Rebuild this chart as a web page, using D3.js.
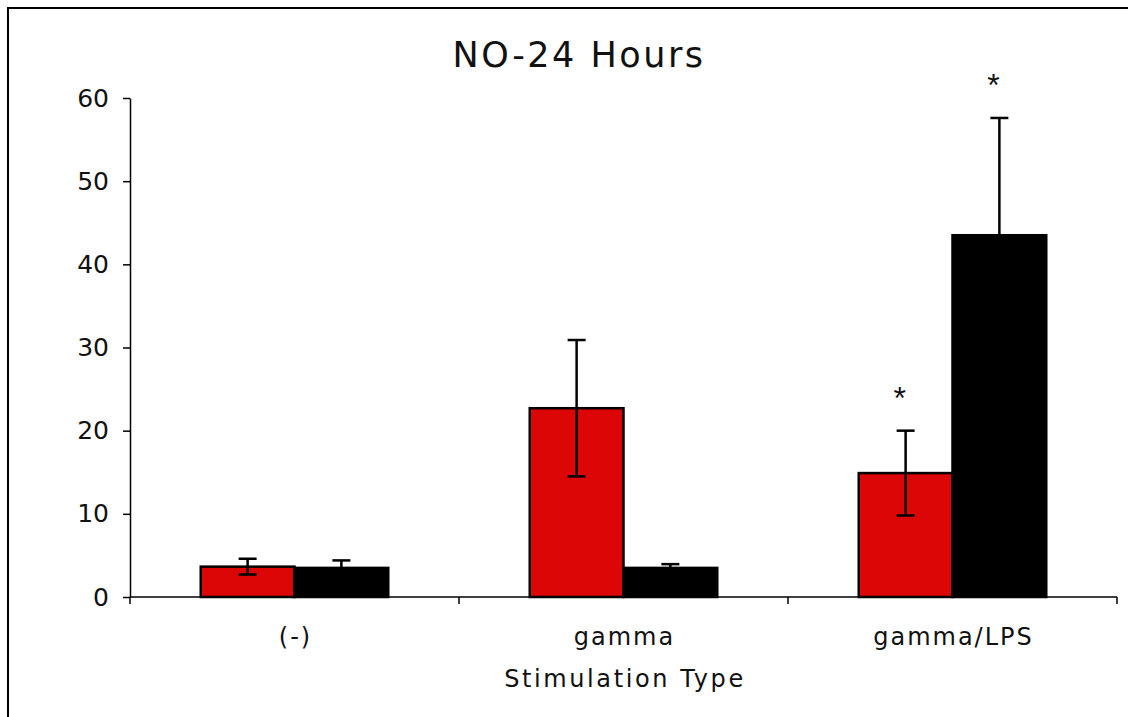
<!DOCTYPE html>
<html>
<head>
<meta charset="utf-8">
<script src="https://cdn.jsdelivr.net/npm/d3@7"></script>
<style>
  html, body { margin: 0; padding: 0; background: #fff; }
  svg { display: block; }
  text { font-family: "DejaVu Sans", Verdana, sans-serif; fill: #111; }
</style>
</head>
<body>
<svg id="chart" width="1128" height="717"></svg>
<script>
// Stimulation groups and the two measured series (mean NO, with error)
const categories = ["(-)", "gamma", "gamma/LPS"];
const seriesNames = ["A", "B"];
const seriesColors = ["#dd0606", "#000000"];
const meansA = [3.65, 22.7, 14.9];
const errorsA = [0.95, 8.2, 5.1];
const meansB = [3.5, 3.5, 43.5];
const errorsB = [0.9, 0.45, 14.1];
const significant = [[false, false], [false, false], [true, true]];
const yTicks = [0, 10, 20, 30, 40, 50, 60];
const titleText = "NO-24 Hours";
const xTitle = "Stimulation Type";

const svg = d3.select("#chart");
const margin = { left: 130, right: 11, top: 98, bottom: 120 };
const W = 1128, H = 717;
const plotW = W - margin.left - margin.right;
const plotH = H - margin.top - margin.bottom;

// outer frame (open on the right and bottom)
svg.append("rect")
  .attr("x", 8).attr("y", 8)
  .attr("width", W + 20).attr("height", H + 20)
  .attr("fill", "none").attr("stroke", "#000").attr("stroke-width", 2);

const g = svg.append("g").attr("transform", `translate(${margin.left},${margin.top})`);

const x = d3.scaleBand().domain(categories).range([0, plotW]).paddingInner(0).paddingOuter(0);
const xs = d3.scaleBand().domain(seriesNames).range([x.bandwidth() * 0.215, x.bandwidth() * 0.785]);
const y = d3.scaleLinear().domain([0, 60]).range([plotH, 0]);

// y axis
const yAxis = g.append("g")
  .call(d3.axisLeft(y).tickValues(yTicks).tickSize(7).tickPadding(14).tickSizeOuter(0));
yAxis.select(".domain").attr("stroke-width", 1.5);
yAxis.selectAll(".tick line").attr("stroke-width", 1.5);
yAxis.selectAll("text").attr("font-size", 25).attr("fill", "#111")
  .style("font-family", '"DejaVu Sans", Verdana, sans-serif');

// x axis with ticks between categories
const xAxis = g.append("g").attr("transform", `translate(0,${plotH})`);
xAxis.append("line").attr("x1", 0).attr("x2", plotW).attr("y1", 0).attr("y2", 0)
  .attr("stroke", "#000").attr("stroke-width", 1.5);
const boundaries = categories.map(c => x(c)).concat([x(categories[categories.length - 1]) + x.bandwidth()]);
xAxis.selectAll("line.xt").data(boundaries).join("line").attr("class", "xt")
  .attr("x1", d => d).attr("x2", d => d).attr("y1", 0).attr("y2", 7)
  .attr("stroke", "#000").attr("stroke-width", 1.5);
xAxis.selectAll("text.xl").data(categories).join("text").attr("class", "xl")
  .attr("x", d => x(d) + x.bandwidth() / 2 + 1).attr("y", 48)
  .attr("text-anchor", "middle").attr("font-size", 24)
  .attr("letter-spacing", 2).text(d => d);

// bars
const rows = categories.map((c, i) => [
  { cat: c, s: 0, v: meansA[i], e: errorsA[i], sig: significant[i][0] },
  { cat: c, s: 1, v: meansB[i], e: errorsB[i], sig: significant[i][1] }
]).flat();

g.selectAll("rect.bar").data(rows).join("rect").attr("class", "bar")
  .attr("x", d => x(d.cat) + xs(seriesNames[d.s]))
  .attr("y", d => y(d.v))
  .attr("width", xs.bandwidth())
  .attr("height", d => y(0) - y(d.v))
  .attr("fill", d => seriesColors[d.s])
  .attr("stroke", "#000").attr("stroke-width", 2.5);

// error bars
const cx = d => x(d.cat) + xs(seriesNames[d.s]) + xs.bandwidth() / 2;
const capW = 9;
const eb = g.selectAll("g.err").data(rows).join("g").attr("class", "err")
  .attr("stroke", "#000").attr("stroke-width", 2.5);
eb.append("line").attr("x1", cx).attr("x2", cx)
  .attr("y1", d => y(d.v + d.e)).attr("y2", d => y(d.v - d.e));
eb.append("line").attr("x1", d => cx(d) - capW).attr("x2", d => cx(d) + capW)
  .attr("y1", d => y(d.v + d.e)).attr("y2", d => y(d.v + d.e));
eb.append("line").attr("x1", d => cx(d) - capW).attr("x2", d => cx(d) + capW)
  .attr("y1", d => y(d.v - d.e)).attr("y2", d => y(d.v - d.e));

// significance markers
g.selectAll("text.sig").data(rows.filter(d => d.sig)).join("text").attr("class", "sig")
  .attr("x", d => cx(d) - 6).attr("y", d => y(d.v + d.e) - 22)
  .attr("text-anchor", "middle").attr("font-size", 32)
  .style("font-family", '"Liberation Sans", Arial, sans-serif').text("*");

// titles
svg.append("text").attr("x", 579).attr("y", 67).attr("text-anchor", "middle")
  .attr("font-size", 35).attr("letter-spacing", 2.5).text(titleText);
svg.append("text").attr("x", 625).attr("y", 687).attr("text-anchor", "middle")
  .attr("font-size", 24).attr("letter-spacing", 2.6).text(xTitle);
</script>
</body>
</html>
